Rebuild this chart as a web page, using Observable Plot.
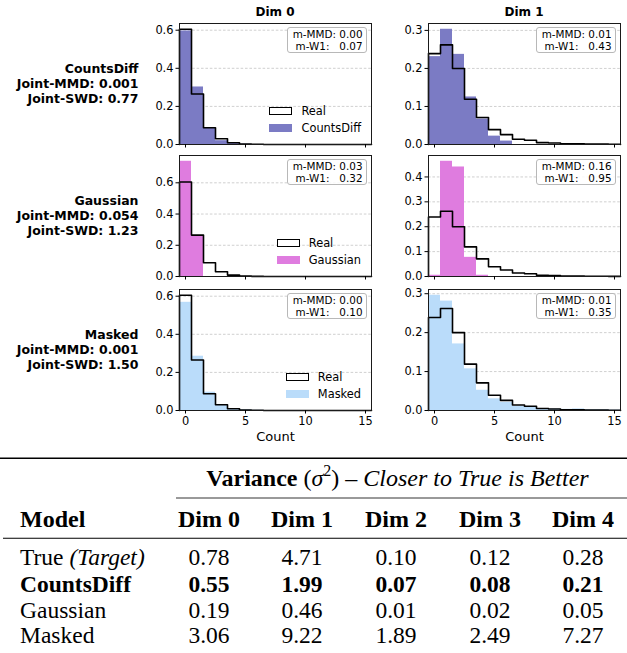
<!DOCTYPE html>
<html><head><meta charset="utf-8">
<script src="https://cdn.jsdelivr.net/npm/d3@7"></script>
<script src="https://cdn.jsdelivr.net/npm/@observablehq/plot@0.6"></script>
<style>
body{margin:0;background:#fff;}
#root{position:relative;width:627px;height:653px;overflow:hidden;font-family:"DejaVu Sans";color:#000;}
.abs{position:absolute;white-space:pre;}
</style></head><body><div id="root"></div>
<script>
// ---------------- data ----------------
const models = ["CountsDiff", "Gaussian", "Masked"];
const dimNames = ["Dim 0", "Dim 1"];
const jointMMD = ["0.001", "0.054", "0.001"];
const jointSWD = ["0.77", "1.23", "1.50"];
const bins = [0, 1, 2, 3, 4, 5, 6, 7, 8, 9, 10, 11, 12, 13, 14, 15];
const realDim0 = [0.605, 0.265, 0.088, 0.030, 0.009, 0.003, 0.001, 0, 0, 0, 0, 0, 0, 0, 0, 0];
const realDim1 = [0.239, 0.262, 0.200, 0.119, 0.071, 0.039, 0.026, 0.014, 0.011, 0.005, 0.004, 0.002, 0.002, 0.001, 0.001, 0.0005];
const countsDiffDim0 = [0.596, 0.302, 0.088, 0.020, 0.005, 0.001, 0, 0, 0, 0, 0, 0, 0, 0, 0, 0];
const countsDiffDim1 = [0.231, 0.303, 0.237, 0.125, 0.067, 0.022, 0.009, 0, 0, 0, 0, 0, 0, 0, 0, 0];
const gaussianDim0 = [0.738, 0.262, 0, 0, 0, 0, 0, 0, 0, 0, 0, 0, 0, 0, 0, 0];
const gaussianDim1 = [0.005, 0.463, 0.440, 0.077, 0.005, 0, 0, 0, 0, 0, 0, 0, 0, 0, 0, 0];
const maskedDim0 = [0.568, 0.285, 0.096, 0.026, 0.010, 0.004, 0.001, 0, 0, 0, 0, 0, 0, 0, 0, 0];
const maskedDim1 = [0.296, 0.281, 0.171, 0.107, 0.052, 0.030, 0.021, 0.011, 0.009, 0.005, 0.004, 0.003, 0.004, 0.002, 0.002, 0.001];
const mMMD = [["0.00", "0.01"], ["0.03", "0.16"], ["0.00", "0.01"]];
const mW1 = [["0.07", "0.43"], ["0.32", "0.95"], ["0.10", "0.35"]];
const xTicks = [0, 5, 10, 15];
const yTicks = [
  [[0, 0.2, 0.4, 0.6], [0, 0.1, 0.2, 0.3]],
  [[0, 0.2, 0.4, 0.6], [0, 0.1, 0.2, 0.3, 0.4]],
  [[0, 0.2, 0.4, 0.6], [0, 0.1, 0.2, 0.3]]
];
const xLabel = "Count";
const realLabel = "Real";
const modelColors = ["#7b7bc4", "#df7cdf", "#badcfa"];

const tableTitleBold = "Variance";
const tableTitleSym = "σ";
const tableTitleSup = "2";
const tableTitleItalic = "Closer to True is Better";
const tableHeadModel = "Model";
const tableCols = ["Dim 0", "Dim 1", "Dim 2", "Dim 3", "Dim 4"];
const tableRowNames = ["True", "CountsDiff", "Gaussian", "Masked"];
const tableRowNote = "(Target)";
const tableValues = [
  [0.78, 4.71, 0.10, 0.12, 0.28],
  [0.55, 1.99, 0.07, 0.08, 0.21],
  [0.19, 0.46, 0.01, 0.02, 0.05],
  [3.06, 9.22, 1.89, 2.49, 7.27]
];

// ---------------- layout ----------------
const root = document.getElementById("root");
const realData = [realDim0, realDim1];
const modelData = [[countsDiffDim0, countsDiffDim1], [gaussianDim0, gaussianDim1], [maskedDim0, maskedDim1]];
const colX = [179, 428];
const rowY = [23, 155, 289];
const PW = 192, PH = 121;
const ML = 45, MR = 8, MT = 6, MB = 40;

const ctx = document.createElement("canvas").getContext("2d");
function tw(text, font) { ctx.font = font; return ctx.measureText(text).width; }

function div(text, css) {
  const d = document.createElement("div");
  d.className = "abs";
  d.textContent = text;
  Object.assign(d.style, css);
  root.appendChild(d);
  return d;
}

for (let r = 0; r < 3; r++) {
  for (let c = 0; c < 2; c++) {
    const model = modelData[r][c], real = realData[c];
    const bars = bins.map((b, i) => ({x1: b - 0.5, x2: b + 0.5, y: model[i]}));
    const steps = [{x: bins[0] - 0.5, y: 0}]
      .concat(bins.map((b, i) => ({x: b - 0.5, y: real[i]})))
      .concat([{x: bins[bins.length - 1] + 0.5, y: 0}]);
    const ymax = Math.max(d3.max(model), d3.max(real)) * 1.05;
    const yt = yTicks[r][c];
    const svg = Plot.plot({
      width: ML + PW + MR, height: MT + PH + MB,
      marginLeft: ML, marginRight: MR, marginTop: MT, marginBottom: MB,
      style: {background: "transparent", fontFamily: "DejaVu Sans", fontSize: "11.4px", color: "#000", overflow: "visible"},
      x: {domain: [-0.5, 15.5]},
      y: {domain: [0, ymax]},
      marks: [
        Plot.ruleY(yt.filter(v => v > 0), {stroke: "#c4c4c4", strokeDasharray: "2.6,1.8", strokeWidth: 0.8}),
        Plot.rectY(bars, {x1: "x1", x2: "x2", y: "y", fill: modelColors[r]}),
        Plot.line(steps, {x: "x", y: "y", curve: "step-after", stroke: "#000", strokeWidth: 1.6}),
        Plot.frame({stroke: "#1a1a1a", strokeWidth: 1}),
        Plot.axisX({ticks: xTicks, tickSize: 3.5, tickPadding: 2.5, tickFormat: r === 2 ? (d => String(d)) : (() => ""), label: null}),
        Plot.axisY({ticks: yt, tickSize: 3.5, tickPadding: 2.5, tickFormat: d3.format(".1f"), label: null}),
        r === 2 ? Plot.text([xLabel], {frameAnchor: "bottom", dy: 30, text: d => d, fontSize: 13}) : null
      ]
    });
    svg.style.position = "absolute";
    svg.style.left = (colX[c] - ML) + "px";
    svg.style.top = (rowY[r] - MT) + "px";
    root.appendChild(svg);

    // stat box
    const right = colX[c] + PW - 4.5;
    div("m-MMD: " + mMMD[r][c] + "\nm-W1:   " + mW1[r][c], {
      right: (627 - right) + "px", top: (rowY[r] + 4) + "px",
      fontSize: "10.4px", lineHeight: "12px", textAlign: "right",
      padding: "0px 3px 0px 5px", border: "1px solid #b8b8b8", borderRadius: "3px",
      background: "rgba(255,255,255,0.85)"
    });

    // legend (left column only)
    if (c === 0) {
      const font = "11.4px 'DejaVu Sans'";
      const w = Math.max(tw(realLabel, font), tw(models[r], font));
      const textRight = colX[c] + PW - 10;
      const textLeft = textRight - w;
      const bottom = rowY[r] + PH;
      const items = [[realLabel, bottom - 33, true], [models[r], bottom - 16, false]];
      for (const [lab, cy, isReal] of items) {
        const p = document.createElement("div");
        p.className = "abs";
        Object.assign(p.style, {
          left: (textLeft - 9 - 23) + "px", top: (cy - 4) + "px", width: "23px", height: "8px",
          boxSizing: "border-box",
          background: isReal ? "#fff" : modelColors[r],
          border: isReal ? "1.5px solid #000" : "none"
        });
        root.appendChild(p);
        div(lab, {left: textLeft + "px", top: (cy - 7.5) + "px", fontSize: "11.4px", lineHeight: "14px"});
      }
    }
  }
}

// column titles
for (let c = 0; c < 2; c++) {
  div(dimNames[c], {left: colX[c] + "px", width: PW + "px", textAlign: "center", top: "5px",
    fontSize: "12px", fontWeight: "bold", lineHeight: "14px"});
}
// row labels
for (let r = 0; r < 3; r++) {
  const cy = rowY[r] + PH / 2;
  div(models[r] + "\nJoint-MMD: " + jointMMD[r] + "\nJoint-SWD: " + jointSWD[r], {
    left: "0px", width: "138.5px", textAlign: "right", top: (cy - 23) + "px",
    fontSize: "12.5px", fontWeight: "bold", lineHeight: "15px"
  });
}

// ---------------- table ----------------
const T0 = 445;
const tsvg = d3.create("svg").attr("width", 627).attr("height", 653 - T0)
  .style("position", "absolute").style("left", "0px").style("top", T0 + "px")
  .style("font-family", "'Liberation Serif'");
const Y = v => v - T0;
const colCenters = [209, 302, 396, 490, 583];
tsvg.append("line").attr("x1", 0).attr("x2", 627).attr("y1", Y(458.2)).attr("y2", Y(458.2)).attr("stroke", "#000").attr("stroke-width", 1.5);
const title = tsvg.append("text").attr("x", 397.5).attr("y", Y(486)).attr("text-anchor", "middle").attr("font-size", 24);
title.append("tspan").attr("font-weight", "bold").text(tableTitleBold);
title.append("tspan").text(" (");
title.append("tspan").attr("font-style", "italic").text(tableTitleSym);
title.append("tspan").attr("font-size", 16).attr("dy", -10).text(tableTitleSup);
title.append("tspan").attr("dy", 10).text(")");
title.append("tspan").text(" – ");
title.append("tspan").attr("font-style", "italic").text(tableTitleItalic);
tsvg.append("line").attr("x1", 176).attr("x2", 627).attr("y1", Y(498)).attr("y2", Y(498)).attr("stroke", "#000").attr("stroke-width", 0.8);
tsvg.append("text").attr("x", 20).attr("y", Y(527)).attr("font-size", 24).attr("font-weight", "bold").text(tableHeadModel);
tableCols.forEach((t, i) => {
  tsvg.append("text").attr("x", colCenters[i]).attr("y", Y(527)).attr("text-anchor", "middle")
    .attr("font-size", 24).attr("font-weight", "bold").text(t);
});
tsvg.append("line").attr("x1", 3).attr("x2", 627).attr("y1", Y(538.3)).attr("y2", Y(538.3)).attr("stroke", "#000").attr("stroke-width", 1.1);
const rowBase = [565, 592, 618, 643];
const fmt = d3.format(".2f");
tableRowNames.forEach((name, i) => {
  const bold = name === "CountsDiff";
  const t = tsvg.append("text").attr("x", 20).attr("y", Y(rowBase[i])).attr("font-size", 23.5)
    .attr("font-weight", bold ? "bold" : "normal");
  t.append("tspan").text(name);
  if (i === 0) { t.append("tspan").text(" "); t.append("tspan").attr("font-style", "italic").text(tableRowNote); }
  tableValues[i].forEach((v, j) => {
    tsvg.append("text").attr("x", colCenters[j]).attr("y", Y(rowBase[i])).attr("text-anchor", "middle")
      .attr("font-size", 23.5).attr("font-weight", bold ? "bold" : "normal").text(fmt(v));
  });
});
root.appendChild(tsvg.node());
</script></body></html>
